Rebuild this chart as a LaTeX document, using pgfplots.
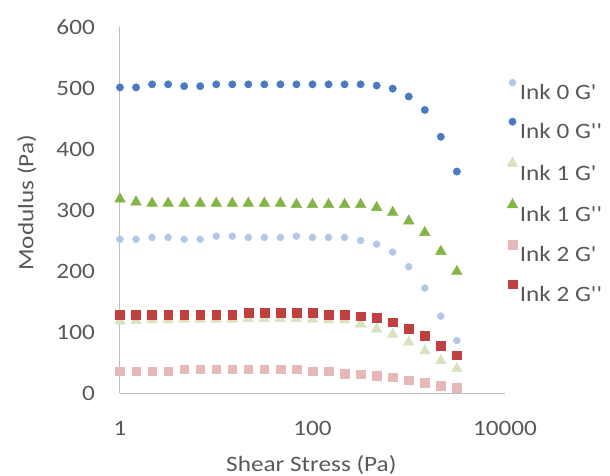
\documentclass[border=0pt]{standalone}
\usepackage{pgfplots}
\pgfplotsset{compat=1.18}
\usepackage{graphicx}
\usepackage{fontspec}
\setmainfont{Carlito}
\newcommand{\q}{\textquotesingle}
\newcommand{\hs}[1]{\scalebox{1.15}[1]{#1}}
\definecolor{txt}{HTML}{595959}
\definecolor{axl}{HTML}{BFBFBF}
\definecolor{cA}{HTML}{B4C7E7}
\definecolor{cB}{HTML}{4A7BC2}
\definecolor{cC}{HTML}{D5E3BF}
\definecolor{cD}{HTML}{84B448}
\definecolor{cE}{HTML}{E6B9B8}
\definecolor{cF}{HTML}{C0403F}
\begin{document}
\begin{tikzpicture}
\useasboundingbox (-120bp,-83bp) rectangle (490bp,393bp);
\begin{axis}[
  at={(0,0)}, anchor=south west,
  scale only axis, width=385bp, height=366bp,
  xmode=log, log basis x=10,
  xmin=1, xmax=10000, ymin=0, ymax=600,
  enlargelimits=false, clip=false,
  xtick={1,100,10000}, xticklabels={\hs{1},\hs{100},\hs{10000}},
  ytick={0,100,200,300,400,500,600},
  yticklabels={\hs{0},\hs{100},\hs{200},\hs{300},\hs{400},\hs{500},\hs{600}},
  major tick length=0pt, minor tick length=0pt,
  axis x line*=bottom, axis y line*=left,
  axis line style={draw=axl, line width=1bp},
  /pgf/number format/assume math mode=true,
  tick label style={font=\fontsize{22}{26}\selectfont, text=txt, inner sep=0pt},
  yticklabel style={anchor=east, xshift=-25bp},
  xticklabel style={anchor=north, yshift=-28bp},
  xlabel={\hs{Shear Stress (Pa)}}, ylabel={\hs{Modulus (Pa)}},
  label style={font=\fontsize{22}{26}\selectfont, text=txt},
  xlabel style={at={(axis description cs:0.497,-0.196)}, anchor=center},
  ylabel style={at={(axis description cs:-0.2416,0.52)}, anchor=center, rotate=0},
  legend style={draw=none, fill=none, at={(axis description cs:1.005,0.858)}, anchor=north west,
    font=\fontsize{22}{26}\selectfont, text=txt, row sep=15bp, inner sep=0pt},
  legend cell align=left,
  legend image code/.code={\draw[#1] plot coordinates {(0bp,10bp)};},
]
\addplot[only marks, mark=*, mark size=3.5bp, color=cA] coordinates {
(1,252)(1.468,252)(2.154,255)(3.162,255)(4.642,252)(6.813,252)(10,257)(14.68,257)(21.54,255)(31.62,255)(46.42,255)(68.13,257)(100,255)(146.8,255)(215.4,255)(316.2,250)(464.2,244)(681.3,231)(1000,207)(1468,172)(2154,126)(3162,86)};
\addlegendentry{\hs{Ink 0 G\q}}
\addplot[only marks, mark=*, mark size=3.7bp, color=cB] coordinates {
(1,501)(1.468,501)(2.154,506)(3.162,506)(4.642,503)(6.813,503)(10,506)(14.68,506)(21.54,506)(31.62,506)(46.42,506)(68.13,506)(100,506)(146.8,506)(215.4,506)(316.2,506)(464.2,504)(681.3,499)(1000,486)(1468,464)(2154,420)(3162,363)};
\addlegendentry{\hs{Ink 0 G\q\q}}
\addplot[only marks, mark=triangle*, mark size=6.2bp, color=cC] coordinates {
(1,118)(1.468,119)(2.154,120)(3.162,120)(4.642,121)(6.813,121)(10,121)(14.68,121)(21.54,122)(31.62,122)(46.42,122)(68.13,122)(100,121)(146.8,120)(215.4,120)(316.2,113)(464.2,105)(681.3,96)(1000,83)(1468,69)(2154,53)(3162,40)};
\addlegendentry{\hs{Ink 1 G\q}}
\addplot[only marks, mark=triangle*, mark size=6.2bp, color=cD] coordinates {
(1,318)(1.468,313)(2.154,311)(3.162,311)(4.642,311)(6.813,311)(10,311)(14.68,311)(21.54,311)(31.62,311)(46.42,311)(68.13,309)(100,309)(146.8,309)(215.4,309)(316.2,309)(464.2,304)(681.3,296)(1000,282)(1468,263)(2154,232)(3162,199)};
\addlegendentry{\hs{Ink 1 G\q\q}}
\addplot[only marks, mark=square*, mark size=4.3bp, color=cE] coordinates {
(1,36)(1.468,36)(2.154,36)(3.162,36)(4.642,39)(6.813,39)(10,39)(14.68,39)(21.54,39)(31.62,39)(46.42,39)(68.13,39)(100,36)(146.8,36)(215.4,32)(316.2,31)(464.2,28)(681.3,26)(1000,21)(1468,17)(2154,12)(3162,9)};
\addlegendentry{\hs{Ink 2 G\q}}
\addplot[only marks, mark=square*, mark size=4.4bp, color=cF] coordinates {
(1,129)(1.468,129)(2.154,129)(3.162,129)(4.642,129)(6.813,129)(10,129)(14.68,129)(21.54,132)(31.62,132)(46.42,132)(68.13,132)(100,132)(146.8,129)(215.4,129)(316.2,126)(464.2,124)(681.3,116)(1000,105)(1468,94)(2154,78)(3162,62)};
\addlegendentry{\hs{Ink 2 G\q\q}}
\end{axis}
\end{tikzpicture}
\end{document}
